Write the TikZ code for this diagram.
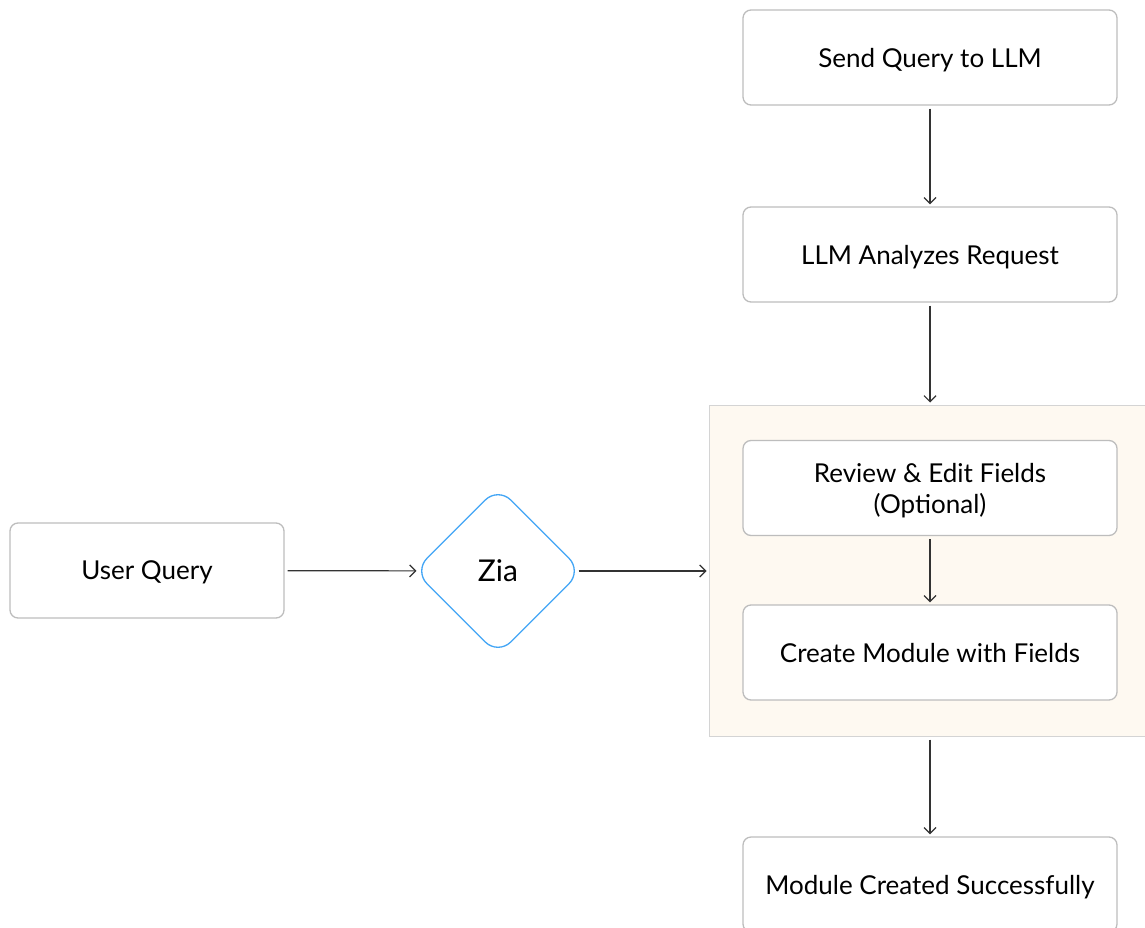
\documentclass[tikz,border=0pt]{standalone}
\usepackage{fontspec}
\setmainfont{Lato}
\usetikzlibrary{shapes.geometric,arrows.meta}
\definecolor{boxline}{HTML}{BDBDBD}
\definecolor{panelfill}{HTML}{FEF9F1}
\definecolor{panelline}{HTML}{D4D4D4}
\definecolor{ziablue}{HTML}{42A5F5}
\definecolor{arrowgray}{HTML}{333333}
\tikzset{
	stepbox/.style={draw=boxline,line width=1.3pt,rounded corners=8pt,fill=white,minimum width=374pt,minimum height=95pt,align=center,inner sep=0pt,text depth=0pt,font=\fontsize{26}{31}\selectfont},
	flow/.style={draw=arrowgray,line width=1.2pt,-{Straight Barb[length=6pt,width=12pt]},shorten <=3pt,shorten >=2pt}
}
\begin{document}
\begin{tikzpicture}[x=1pt,y=-1pt]
		\useasboundingbox(0,0)rectangle(1145,928);
		% panel behind the two editing steps
		\node[draw=panelline,line width=1pt,fill=panelfill,minimum width=438pt,minimum height=331pt,inner sep=0pt](panel)at(928,570.5){};
		\node[stepbox](send)at(930,57.5){Send Query to LLM};
		\node[stepbox](llm)at(930,254.5){LLM Analyzes Request};
		\node[stepbox](review)at(930,488){Review \& Edit Fields\\(Optional)};
		\node[stepbox](create)at(930,652.5){Create Module with Fields};
		\node[stepbox](done)at(930,884.5){Module Created Successfully};
		\node[stepbox,minimum width=274pt](user)at(147,570.5){User Query};
		\node[diamond,draw=ziablue,line width=1.3pt,rounded corners=18pt,minimum width=168pt,minimum height=168pt,inner sep=0pt,font=\fontsize{30}{34}\selectfont](zia)at(498,571){Zia};
		% connectors
		\draw[flow,shorten >=-3pt](user)--(zia);
		\draw[flow,shorten <=-4pt](zia)--(zia-|panel.west);
		\draw[flow](send)--(llm);
		\draw[flow](llm)--(llm|-panel.north);
		\draw[flow](review)--(create);
		\draw[flow](panel.south-|done)--(done);
	    \end{tikzpicture}
\end{document}
